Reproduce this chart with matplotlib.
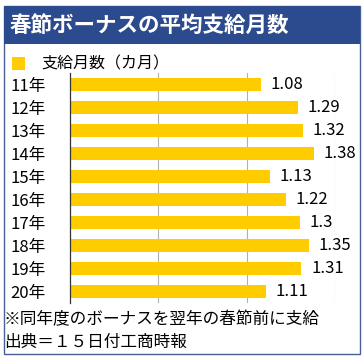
import matplotlib
matplotlib.use("Agg")
import matplotlib.pyplot as plt
from matplotlib.patches import Rectangle

plt.rcParams['font.family'] = ['Noto Sans CJK JP', 'DejaVu Sans']

# data
years = ['11年', '12年', '13年', '14年', '15年', '16年', '17年', '18年', '19年', '20年']
months = [1.08, 1.29, 1.32, 1.38, 1.13, 1.22, 1.3, 1.35, 1.31, 1.11]
title = '春節ボーナスの平均支給月数'
series_name = '支給月数（カ月）'
notes = ['※同年度のボーナスを翌年の春節前に支給', '出典＝１５日付工商時報']

W, H = 364, 361
BLUE = '#2c4a8e'
YELLOW = '#ffcc00'

fig = plt.figure(figsize=(W / 100, H / 100), dpi=100)

def px(x, y):
    # pixel coords (from top-left) -> figure fraction
    return x / W, 1 - y / H

# outer frame and title band
fig.patches.append(Rectangle(px(3.5, 354), 356.5 / W, 348 / H, transform=fig.transFigure,
                             facecolor='none', edgecolor='#4a5f96', linewidth=1.0, zorder=-2))
fig.patches.append(Rectangle(px(3.5, 44), 356.5 / W, 38 / H, transform=fig.transFigure,
                             facecolor=BLUE, edgecolor='none', zorder=-1))
fig.text(*px(10, 25), title, color='white', fontsize=15.5, fontweight='bold', va='center', ha='left')

ax = fig.add_axes([70 / W, 58 / H, (335 - 70) / W, 230 / H])
ax.set_zorder(2)
bars = ax.barh(range(len(years)), months, height=0.6, color=YELLOW, label=series_name, zorder=2)
ax.set_xlim(0, 1.5)
ax.set_ylim(len(years) - 0.5, -0.5)
ax.set_yticks(range(len(years)))
ax.set_yticklabels(years, fontsize=12, ha='left')
ax.set_xticks([0.5, 1.0, 1.5])
ax.tick_params(axis='x', length=0, labelbottom=False)
ax.tick_params(axis='y', length=0, pad=43)
ax.xaxis.grid(True, color='#b0b0b0', linewidth=0.8, zorder=0)
for s in ['top', 'right', 'bottom']:
    ax.spines[s].set_visible(False)
ax.spines['left'].set_color('#333333')
ax.spines['left'].set_linewidth(0.9)
ax.set_facecolor('none')

ax.bar_label(bars, labels=[str(v) for v in months], padding=7, fontsize=12)

# legend: yellow square + series name
fig.patches.append(Rectangle(px(12, 70), 13 / W, 13 / H, transform=fig.transFigure,
                             facecolor=YELLOW, edgecolor='none'))
fig.text(*px(41, 63.5), series_name, fontsize=11.5, va='center', ha='left')

fig.text(*px(4, 320), notes[0], fontsize=12, va='center', ha='left')
fig.text(*px(4, 342), notes[1], fontsize=12, va='center', ha='left')

fig.savefig('out.png', dpi=100)
